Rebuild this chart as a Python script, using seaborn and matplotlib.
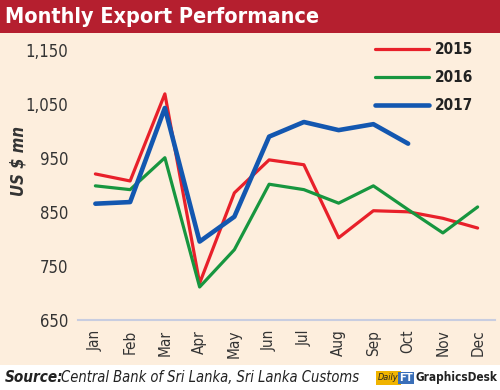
import numpy as np
import pandas as pd
import matplotlib
matplotlib.use("Agg")
import matplotlib.pyplot as plt
import seaborn as sns
from matplotlib.patches import Rectangle

months = ["Jan", "Feb", "Mar", "Apr", "May", "Jun", "Jul", "Aug", "Sep", "Oct", "Nov", "Dec"]
exports_2015 = [920, 907, 1068, 718, 885, 946, 937, 802, 852, 850, 838, 820]
exports_2016 = [898, 891, 950, 711, 780, 901, 891, 866, 898, 854, 811, 859]
exports_2017 = [865, 868, 1042, 795, 841, 989, 1016, 1001, 1012, 976]
yticks = [650, 750, 850, 950, 1050, 1150]

rows = []
for year, vals in [("2015", exports_2015), ("2016", exports_2016), ("2017", exports_2017)]:
    for i, v in enumerate(vals):
        rows.append({"month": i, "value": v, "year": year})
df = pd.DataFrame(rows)

sns.set_theme(style="white")
plt.rcParams["font.family"] = ["DejaVu Sans"]
plt.rcParams["font.stretch"] = "condensed"

bg = "#fdeedd"
fig = plt.figure(figsize=(5, 3.9), dpi=100)
fig.patch.set_facecolor(bg)

# title bar and footer
fig.patches.append(Rectangle((0, 1 - 33 / 390), 1, 33 / 390, transform=fig.transFigure,
                             facecolor="#b51f2f", edgecolor="none", zorder=0))
fig.patches.append(Rectangle((0, 0), 1, 25 / 390, transform=fig.transFigure,
                             facecolor="white", edgecolor="none", zorder=0))
fig.text(5 / 500, 1 - 17 / 390, "Monthly Export Performance", color="white",
         fontsize=15.5, fontweight="bold", va="center", ha="left")

ax = fig.add_axes([78 / 500, 70 / 390, 417 / 500, 284 / 390])
ax.set_facecolor(bg)

colors = {"2015": "#e8202a", "2016": "#17963f", "2017": "#1357b0"}
widths = {"2015": 2.3, "2016": 2.3, "2017": 3.3}
for year in ["2015", "2016", "2017"]:
    sub = df[df["year"] == year]
    sns.lineplot(data=sub, x="month", y="value", color=colors[year],
                 linewidth=widths[year], ax=ax, label=year, solid_capstyle="round")

ax.set_xlim(-0.5, 11.5)
ax.set_ylim(650, 1175)
ax.set_xticks(range(12))
ax.set_xticklabels(months, rotation=90, fontsize=11, color="#333333")
ax.set_yticks(yticks)
ax.set_yticklabels([f"{t:,}" for t in yticks], fontsize=12, color="#333333")
ax.tick_params(axis="both", length=0, pad=7)
ax.set_xlabel("")
ax.set_ylabel("US $ mn", fontsize=12, fontweight="bold", style="italic", color="#333333")
ax.yaxis.set_label_coords(-50 / 417, 0.56)
for s in ["top", "right", "left"]:
    ax.spines[s].set_visible(False)
ax.spines["bottom"].set_color("#c8cde0")
ax.spines["bottom"].set_linewidth(1.5)

leg = ax.legend(loc="upper left", bbox_to_anchor=(291 / 417, 1.0), frameon=False,
                fontsize=11, handlelength=3.5, labelspacing=0.85, handletextpad=0.4,
                borderaxespad=0)
for t in leg.get_texts():
    t.set_fontweight("bold")
    t.set_color("#222222")

# footer
fig.text(5 / 500, 12 / 390, "Source:", fontsize=11, fontweight="bold", style="italic",
         color="#222222", va="center")
fig.text(61 / 500, 12 / 390, "Central Bank of Sri Lanka, Sri Lanka Customs", fontsize=10.5,
         style="italic", color="#222222", va="center")
fig.text(378 / 500, 12 / 390, "Daily", fontsize=6.5, style="italic", color="#222222",
         va="center", bbox=dict(boxstyle="square,pad=0.25", fc="#f0b400", ec="none"))
fig.text(399 / 500, 12 / 390, "FT", fontsize=8, fontweight="bold", color="white",
         va="center", bbox=dict(boxstyle="square,pad=0.12", fc="#3a6fb8", ec="none"))
fig.text(497 / 500, 12 / 390, "GraphicsDesk", fontsize=8.5, fontweight="bold",
         color="#222222", va="center", ha="right")

fig.savefig("out.png", dpi=100, facecolor=bg)
